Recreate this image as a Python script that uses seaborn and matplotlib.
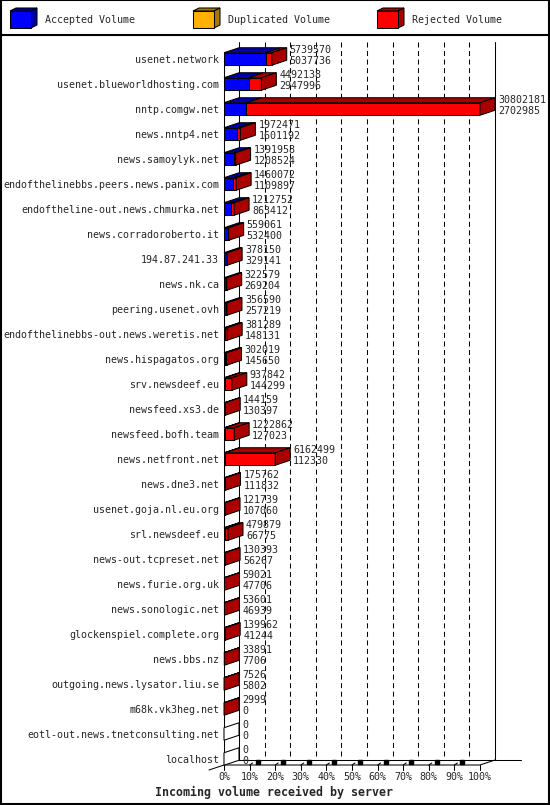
import pandas as pd
import seaborn as sns
import matplotlib.pyplot as plt
from matplotlib.patches import Polygon, Rectangle

# data: total volume (top number) and accepted (bottom number)
servers = ['usenet.network', 'usenet.blueworldhosting.com', 'nntp.comgw.net', 'news.nntp4.net',
           'news.samoylyk.net', 'endofthelinebbs.peers.news.panix.com',
           'endoftheline-out.news.chmurka.net', 'news.corradoroberto.it', '194.87.241.33',
           'news.nk.ca', 'peering.usenet.ovh', 'endofthelinebbs-out.news.weretis.net',
           'news.hispagatos.org', 'srv.newsdeef.eu', 'newsfeed.xs3.de', 'newsfeed.bofh.team',
           'news.netfront.net', 'news.dne3.net', 'usenet.goja.nl.eu.org', 'srl.newsdeef.eu',
           'news-out.tcpreset.net', 'news.furie.org.uk', 'news.sonologic.net',
           'glockenspiel.complete.org', 'news.bbs.nz', 'outgoing.news.lysator.liu.se',
           'm68k.vk3heg.net', 'eotl-out.news.tnetconsulting.net', 'localhost']
total_vol = [5739570, 4492138, 30802181, 1972471, 1391958, 1460072, 1212752, 559061, 378150,
             322579, 356590, 381289, 302019, 937842, 144159, 1222862, 6162499, 175762, 121739,
             479879, 130393, 59021, 53601, 139962, 33891, 7526, 2999, 0, 0]
accepted_vol = [5037736, 2947996, 2702985, 1601192, 1208524, 1109897, 863412, 532400, 329141,
                269204, 257219, 148131, 145650, 144299, 130397, 127023, 112330, 111832, 107060,
                66775, 56267, 47706, 46939, 41244, 7706, 5802, 0, 0, 0]
legend_names = ['Accepted Volume', 'Duplicated Volume', 'Rejected Volume']
pct_ticks = [0, 10, 20, 30, 40, 50, 60, 70, 80, 90, 100]

blue, blue_dk = '#0000ff', '#0000aa'
orange, orange_dk = '#ffb000', '#aa7800'
red, red_dk = '#ff0000', '#aa0000'

df = pd.DataFrame({'server': servers, 'total': total_vol, 'accepted': accepted_vol})
peak = df['total'].max()
df['total_pct'] = df['total'] / peak * 100
df['acc_pct'] = df['accepted'] / peak * 100

sns.set_style('white')
plt.rcParams['font.family'] = ['DejaVu Sans Mono']
FS = 7.2
LW = 0.75

W, H = 550, 805
fig = plt.figure(figsize=(W / 100, H / 100), dpi=100, facecolor='white')

# frame + legend layer, pixel units
bg = fig.add_axes([0, 0, 1, 1], zorder=0)
bg.set_xlim(0, W)
bg.set_ylim(H, 0)
bg.axis('off')
bg.add_patch(Rectangle((0.5, 0.5), W - 1.5, H - 1.5, fill=False, ec='black', lw=1.5))
bg.plot([0, W], [35, 35], color='black', lw=1.5)
for lx, name, fc, dc in zip([10, 193, 377], legend_names,
                            [blue, orange, red], [blue_dk, orange_dk, red_dk]):
    bg.add_patch(Polygon([(lx, 11), (lx + 21, 11), (lx + 27, 8), (lx + 6, 8)], fc=dc, ec='black', lw=LW))
    bg.add_patch(Polygon([(lx + 21, 11), (lx + 27, 8), (lx + 27, 25), (lx + 21, 28)], fc=dc, ec='black', lw=LW))
    bg.add_patch(Rectangle((lx, 11), 21, 17, fc=fc, ec='black', lw=LW))
    bg.text(lx + 35, 20, name, fontsize=FS, va='center', ha='left')
bg.text(274, 792, 'Incoming volume received by server', fontsize=8.4,
        fontweight='bold', ha='center', va='center')

# main chart
left_px, right_px, top_px, bot_px = 224, 480, 46.5, 771.5
ax = fig.add_axes([left_px / W, 1 - bot_px / H, (right_px - left_px) / W, (bot_px - top_px) / H], zorder=1)
ax.patch.set_alpha(0)

sns.barplot(data=df, x='total_pct', y='server', orient='h', color=red, saturation=1,
            width=0.5, edgecolor='black', linewidth=LW, ax=ax)
sns.barplot(data=df, x='acc_pct', y='server', orient='h', color=blue, saturation=1,
            width=0.5, edgecolor='black', linewidth=LW, ax=ax)
for p in ax.patches:
    p.set_zorder(3)

n = len(servers)
ax.set_xlim(0, 100)
ax.set_ylim(n - 0.5, -0.5)
sx = (right_px - left_px) / 100
sy = (bot_px - top_px) / n
DX, DY = 15 / sx, 5 / sy


def row_of(py):
    return (py - top_px) / sy - 0.5


wall_top, floor_back, floor_front = row_of(42), row_of(760), row_of(765)

# back wall
for k in pct_ticks:
    ls = '-' if k in (0, 100) else (0, (4.8, 3.4))
    ax.plot([k + DX, k + DX], [wall_top, floor_back], color='black', lw=LW, ls=ls,
            zorder=1, clip_on=False)
ax.plot([0, 0], [-0.25, floor_front + 5 / sy], color='black', lw=LW, zorder=1, clip_on=False)

# floor
ax.plot([-DX, 0, 100, 100 + DX], [floor_front + DY, floor_front, floor_front, floor_back],
        color='black', lw=LW, zorder=1, clip_on=False)
ax.plot([DX, 100 + DX + 26 / sx], [floor_back, floor_back], color='black', lw=LW,
        zorder=1, clip_on=False)
for k in pct_ticks[1:]:
    ax.plot([k, k], [floor_front, floor_front + 5 / sy], color='black', lw=LW, clip_on=False)
    if k < 100:
        ax.plot([k, k + 3 / sx], [floor_front, floor_front - 2 / sy], color='black', lw=LW,
                clip_on=False)
        ax.plot([k + 8 / sx], [floor_front - 3 / sy], marker='s', ms=2.2, color='black',
                clip_on=False)

# 3D tops, sides and value labels
for i, row in df.iterrows():
    a, t = row['acc_pct'], row['total_pct']
    yt, yb = i - 0.25, i + 0.25
    for x0, x1, c in [(0, a, blue_dk), (a, t, red_dk)]:
        if x1 > x0:
            ax.add_patch(Polygon([(x0, yt), (x1, yt), (x1 + DX, yt - DY), (x0 + DX, yt - DY)],
                                 fc=c, ec='black', lw=LW, zorder=3, clip_on=False))
    side = red_dk if t > a else (blue_dk if a > 0 else 'white')
    ax.add_patch(Polygon([(t, yt), (t + DX, yt - DY), (t + DX, yb - DY), (t, yb)],
                         fc=side, ec='black', lw=LW, zorder=3, clip_on=False))
    ax.text(t + DX + 3 / sx, i - 0.35, f"{row['total']}", fontsize=FS, va='center',
            ha='left', zorder=4, clip_on=False)
    ax.text(t + DX + 3 / sx, i + 0.08, f"{row['accepted']}", fontsize=FS, va='center',
            ha='left', zorder=4, clip_on=False)

ax.set_xticks(pct_ticks, labels=[f'{k}%' for k in pct_ticks])
ax.tick_params(axis='x', length=0, pad=0.6, labelsize=FS)
ax.tick_params(axis='y', length=0, pad=3.6, labelsize=FS)
ax.set_xlabel('')
ax.set_ylabel('')
sns.despine(ax=ax, left=True, bottom=True)

fig.savefig('out.png', dpi=100, facecolor='white')
